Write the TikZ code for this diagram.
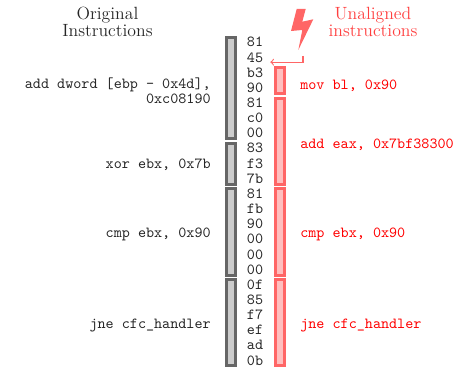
\documentclass[tikz,border=0pt]{standalone}
\usetikzlibrary{arrows,positioning,shapes}
\usepackage{xcolor}

\tikzset{
    byte/.style={anchor=base, inner xsep=4.5pt, inner ysep=0pt, text=black!85, font=\ttfamily},
    origbox/.style={rectangle, draw=black!60, fill=black!20, line width=2pt, minimum width=5.9pt, inner sep=0pt},
    alignbox/.style={rectangle, draw=red!60, fill=red!25, line width=2pt, minimum width=5.9pt, inner sep=0pt},
    origtext/.style={anchor=east, align=right, inner sep=0pt, text=black!85, font=\ttfamily\fontsize{10}{9.6}\selectfont},
    aligntext/.style={anchor=west, inner sep=0pt, text=red, font=\ttfamily},
    heading/.style={align=center, inner sep=0pt, font=\fontsize{11.5}{11}\selectfont}
}

\begin{document}
\begin{tikzpicture}[x=0.65pt, y=-0.65pt]
    \useasboundingbox (0, 0) rectangle (460, 369);
    % headings
    \node (orig_heading) [heading, text=black!85, shift={(107.5, 21.5)}]
    {
        Original\\Instructions
    };
    \node (align_heading) [heading, text=red!75, shift={(373, 21.5)}]
    {
        Unaligned\\instructions
    };
    % instruction bars
    \node (orig_add) [origbox, minimum height=65.6pt, shift={(231, 88)}] {};
    \node (orig_xor) [origbox, minimum height=26.7pt, shift={(231, 164)}] {};
    \node (orig_cmp) [origbox, minimum height=56pt, shift={(231, 232)}] {};
    \node (orig_jne) [origbox, minimum height=56pt, shift={(231, 322.5)}] {};
    \node (align_mov) [alignbox, minimum height=16.9pt, shift={(280, 80.5)}] {};
    \node (align_add) [alignbox, minimum height=56pt, shift={(280, 141.5)}] {};
    \node (align_cmp) [alignbox, minimum height=56pt, shift={(280, 232)}] {};
    \node (align_jne) [alignbox, minimum height=56pt, shift={(280, 322.5)}] {};
    % bytes
    \node (byte_0) [byte, shift={(255, 47)}] {81};
    \node (byte_1) [byte, shift={(255, 62.1)}] {45};
    \node (byte_2) [byte, shift={(255, 77.3)}] {b3};
    \node (byte_3) [byte, shift={(255, 92.4)}] {90};
    \node (byte_4) [byte, shift={(255, 107.6)}] {81};
    \node (byte_5) [byte, shift={(255, 122.7)}] {c0};
    \node (byte_6) [byte, shift={(255, 137.8)}] {00};
    \node (byte_7) [byte, shift={(255, 153)}] {83};
    \node (byte_8) [byte, shift={(255, 168.1)}] {f3};
    \node (byte_9) [byte, shift={(255, 183.3)}] {7b};
    \node (byte_10) [byte, shift={(255, 198.4)}] {81};
    \node (byte_11) [byte, shift={(255, 213.5)}] {fb};
    \node (byte_12) [byte, shift={(255, 228.7)}] {90};
    \node (byte_13) [byte, shift={(255, 243.8)}] {00};
    \node (byte_14) [byte, shift={(255, 259)}] {00};
    \node (byte_15) [byte, shift={(255, 274.1)}] {00};
    \node (byte_16) [byte, shift={(255, 289.2)}] {0f};
    \node (byte_17) [byte, shift={(255, 304.4)}] {85};
    \node (byte_18) [byte, shift={(255, 319.5)}] {f7};
    \node (byte_19) [byte, shift={(255, 334.7)}] {ef};
    \node (byte_20) [byte, shift={(255, 349.8)}] {ad};
    \node (byte_21) [byte, shift={(255, 365)}] {0b};
    % instructions
    \node (orig_add_text) [origtext, shift={(211, 90.5)}]
    {
        add dword [ebp - 0x4d],\\0xc08190
    };
    \node (orig_xor_text) [origtext, shift={(211, 165)}] {xor ebx, 0x7b};
    \node (orig_cmp_text) [origtext, shift={(211, 234.5)}] {cmp ebx, 0x90};
    \node (orig_jne_text) [origtext, shift={(211, 326)}] {jne cfc\_handler};
    \node (align_mov_text) [aligntext, shift={(300, 85.5)}] {mov bl, 0x90};
    \node (align_add_text) [aligntext, shift={(300, 145)}] {add eax, 0x7bf38300};
    \node (align_cmp_text) [aligntext, shift={(300, 234.5)}] {cmp ebx, 0x90};
    \node (align_jne_text) [aligntext, shift={(300, 326)}] {jne cfc\_handler};
    % bolt and its pointer
    \fill[red!60] (296.7, 9) -- (305.7, 9) -- (302.3, 21.7) -- (313.3, 19.3)
        -- (298.3, 50) -- (302.3, 30) -- (291, 31) -- cycle;
    \coordinate (bolt_tail) at (303, 56);
    \draw[->, red!60, line width=0.7pt] (bolt_tail) |- ([yshift=-3.1pt]byte_1.east);
\end{tikzpicture}
\end{document}
